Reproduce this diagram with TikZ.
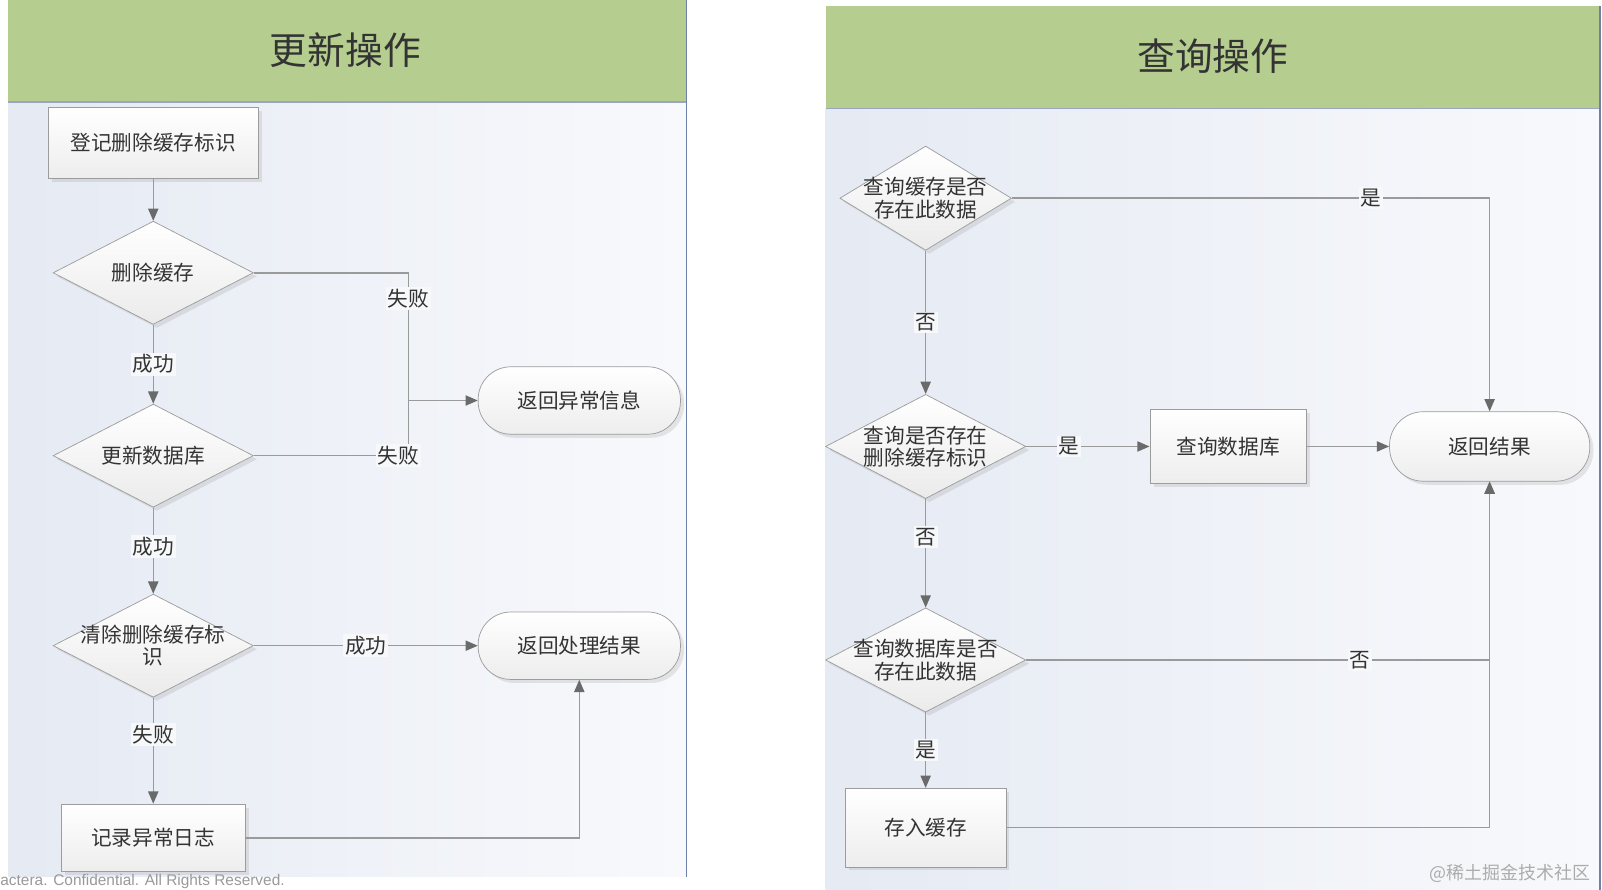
\documentclass[tikz,border=0pt]{standalone}
\usepackage{fontspec}
\setmainfont{Noto Sans CJK SC}
\newfontfamily\latinsans{Liberation Sans}
\usetikzlibrary{shapes,arrows.meta,shadows,positioning}

\definecolor{headgreen}{HTML}{B5CD8F}
\definecolor{panelleft}{HTML}{E5EAF3}
\definecolor{panelright}{HTML}{F8F9FC}
\definecolor{edgeblue}{HTML}{6F80A6}
\definecolor{linegray}{HTML}{9A9A9A}
\definecolor{tipgray}{HTML}{6A6A6A}
\definecolor{boxline}{HTML}{9C9C9C}
\definecolor{txt}{HTML}{333333}
\definecolor{labelbg}{HTML}{F7F8FA}

\tikzstyle{process} = [rectangle, draw=boxline, top color=white, bottom color=gray!14, drop shadow={opacity=0.18, shadow xshift=0.07cm, shadow yshift=-0.07cm}, align=center, text=txt, font=\fontsize{11.5}{12.5}\selectfont]
\tikzstyle{terminal} = [rectangle, rounded corners=0.64cm, minimum width=3.96cm, minimum height=1.32cm, draw=boxline, top color=white, bottom color=gray!14, drop shadow={opacity=0.18, shadow xshift=0.07cm, shadow yshift=-0.07cm}, align=center, text=txt, font=\fontsize{11.5}{12.5}\selectfont]
\tikzstyle{decision} = [diamond, minimum width=3.92cm, minimum height=2.02cm, inner sep=0pt, draw=boxline, top color=white, bottom color=gray!16, drop shadow={opacity=0.18, shadow xshift=0.07cm, shadow yshift=-0.07cm}]
\tikzstyle{dtext} = [align=center, text=txt, inner sep=0pt, font=\fontsize{11.5}{12.5}\selectfont]
\tikzstyle{cond} = [fill=labelbg, inner sep=1pt, text=txt, font=\fontsize{11.5}{12.5}\selectfont]
\tikzstyle{line} = [draw=linegray, line width=0.8pt]
\tikzstyle{arrow} = [draw=linegray, line width=0.8pt, -{Triangle[length=0.24cm, width=0.2cm, color=tipgray]}]

\begin{document}
\begin{tikzpicture}[node distance=2cm]
\useasboundingbox (0,0) rectangle (31.36,-17.42);

% panels
\shade[left color=panelleft, right color=panelright] (0.16,-2.0) rectangle (13.44,-17.16);
\fill[headgreen] (0.16,0) rectangle (13.44,-2.0);
\draw[edgeblue!70, line width=0.8pt] (0.16,-2.0) -- (13.44,-2.0);
\draw[edgeblue, line width=1pt] (13.44,0) -- (13.44,-17.16);
\shade[left color=panelleft, right color=panelright] (16.16,-2.12) rectangle (31.32,-17.42);
\fill[headgreen] (16.16,-0.12) rectangle (31.32,-2.12);
\draw[edgeblue!70, line width=0.8pt] (16.16,-2.12) -- (31.32,-2.12);
\draw[edgeblue, line width=1pt] (31.32,-0.12) -- (31.32,-17.42);

\node (titleupd) [text=txt, font=\fontsize{21}{25}\selectfont] at (6.76,-0.98) {更新操作};
\node (titleqry) [text=txt, font=\fontsize{21}{25}\selectfont] at (23.74,-1.1) {查询操作};

% update side
\node (reg) [process, minimum width=4.12cm, minimum height=1.38cm] at (3.0,-2.8) {登记删除缓存标识};
\node (delc) [decision, below of=reg, yshift=-0.54cm, label={[dtext]center:删除缓存}] {};
\node (upd) [decision, below of=delc, yshift=-1.58cm, label={[dtext]center:更新数据库}] {};
\node (clr) [decision, below of=upd, yshift=-1.72cm, label={[dtext]center:清除删除缓存标\\识}] {};
\node (log) [process, below of=clr, yshift=-1.76cm, minimum width=3.6cm, minimum height=1.32cm] {记录异常日志};
\node (okret) [terminal, right of=clr, xshift=6.34cm] {返回处理结果};
\node (errret) [terminal, above of=okret, yshift=2.8cm] {返回异常信息};
\coordinate[left=1.36cm of errret.west] (fork);

% query side
\node (q1) [decision, minimum width=3.36cm, minimum height=2.04cm, label={[dtext]center:查询缓存是否\\存在此数据}] at (18.12,-3.88) {};
\node (q2) [decision, below of=q1, yshift=-2.86cm, minimum height=2.04cm, label={[dtext]center:查询是否存在\\删除缓存标识}] {};
\node (q3) [decision, below of=q2, yshift=-2.18cm, minimum height=2.04cm, label={[dtext]center:查询数据库是否\\存在此数据}] {};
\node (store) [process, below of=q3, yshift=-1.28cm, minimum width=3.14cm, minimum height=1.54cm] {存入缓存};
\node (qdb) [process, right of=q2, xshift=3.92cm, minimum width=3.06cm, minimum height=1.46cm] {查询数据库};
\node (res) [terminal, right of=qdb, xshift=3.12cm, minimum width=3.92cm, minimum height=1.36cm, rounded corners=0.66cm] {返回结果};

\draw [arrow] (reg) -- (delc);
\draw [arrow] (delc) -- node[cond] {成功} (upd);
\draw [arrow] (upd) -- node[cond, pos=0.45] {成功} (clr);
\draw [arrow] (clr) -- node[cond, pos=0.35] {失败} (log);
\draw [line] (delc.east) -| node[cond, pos=0.6] {失败} (fork);
\draw [line] (upd.east) -| node[cond, pos=0.467] {失败} (fork);
\draw [arrow] (fork) -- (errret);
\draw [arrow] (clr) -- node[cond] {成功} (okret);
\draw [arrow] (log) -| (okret);

\draw [arrow] (q1) -| node[cond, pos=0.376] {是} (res);
\draw [arrow] (q1) -- node[cond] {否} (q2);
\draw [arrow] (q2) -- node[cond, pos=0.345] {是} (qdb);
\draw [arrow] (qdb) -- (res);
\draw [arrow] (q2) -- node[cond, pos=0.35] {否} (q3);
\draw [arrow] (q3) -| node[cond, pos=0.36] {否} (res);
\draw [arrow] (q3) -- node[cond] {是} (store);
\draw [arrow] (store) -| (res);

% footer texts
\node (mark) [anchor=east, text=gray!65, font=\fontsize{10}{12}\selectfont] at (31.26,-17.1) {@稀土掘金技术社区};
\node (conf) [anchor=base west, inner sep=0pt, text=gray!80, font=\latinsans\fontsize{8.6}{10}\selectfont] at (0,-17.33) {actera. Confidential. All Rights Reserved.};

\end{tikzpicture}
\end{document}
